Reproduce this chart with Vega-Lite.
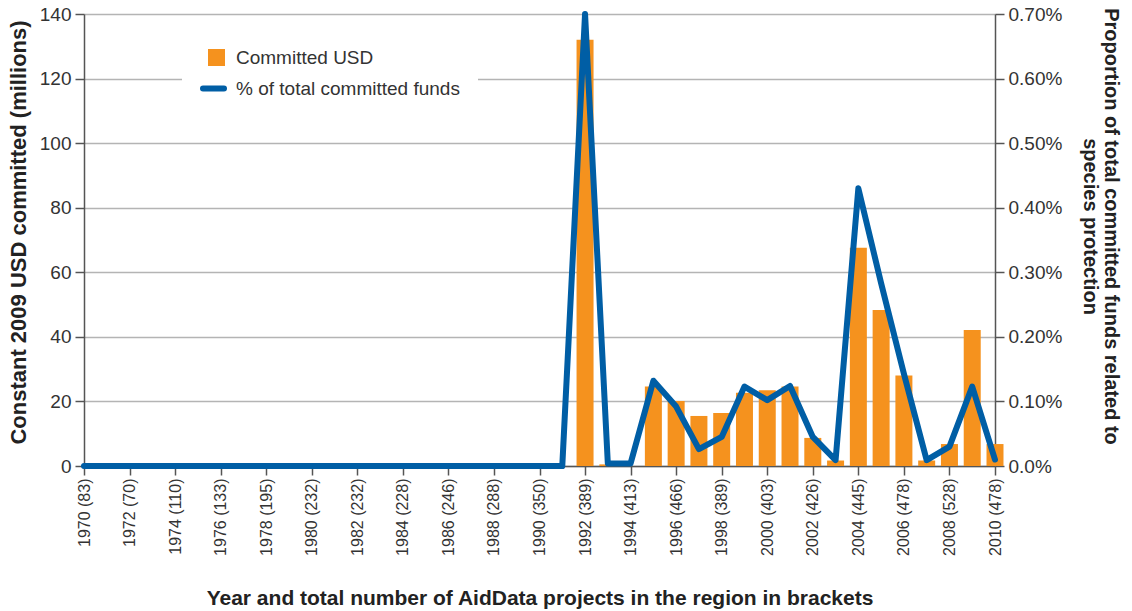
{
  "$schema": "https://vega.github.io/schema/vega-lite/v6.json",
  "width": 911,
  "height": 452,
  "autosize": "none",
  "padding": {"left": 84, "top": 14, "right": 137, "bottom": 145},
  "background": "white",
  "config": {
    "view": {"stroke": null},
    "font": "Liberation Sans",
    "axis": {"labelColor": "#333333", "titleColor": "#222222", "domainColor": "#555555", "tickColor": "#555555", "domainWidth": 1.5, "tickWidth": 1.5, "gridColor": "#b4b4b4", "gridWidth": 1.3}
  },
  "data": {"values": [
    {"year": 1970, "label": "1970 (83)", "usd": 0, "pct": 0},
    {"year": 1971, "label": "1971", "usd": 0, "pct": 0},
    {"year": 1972, "label": "1972 (70)", "usd": 0, "pct": 0},
    {"year": 1973, "label": "1973", "usd": 0, "pct": 0},
    {"year": 1974, "label": "1974 (110)", "usd": 0, "pct": 0},
    {"year": 1975, "label": "1975", "usd": 0, "pct": 0},
    {"year": 1976, "label": "1976 (133)", "usd": 0, "pct": 0},
    {"year": 1977, "label": "1977", "usd": 0, "pct": 0},
    {"year": 1978, "label": "1978 (195)", "usd": 0, "pct": 0},
    {"year": 1979, "label": "1979", "usd": 0, "pct": 0},
    {"year": 1980, "label": "1980 (232)", "usd": 0, "pct": 0},
    {"year": 1981, "label": "1981", "usd": 0, "pct": 0},
    {"year": 1982, "label": "1982 (232)", "usd": 0, "pct": 0},
    {"year": 1983, "label": "1983", "usd": 0, "pct": 0},
    {"year": 1984, "label": "1984 (228)", "usd": 0, "pct": 0},
    {"year": 1985, "label": "1985", "usd": 0, "pct": 0},
    {"year": 1986, "label": "1986 (246)", "usd": 0, "pct": 0},
    {"year": 1987, "label": "1987", "usd": 0, "pct": 0},
    {"year": 1988, "label": "1988 (288)", "usd": 0, "pct": 0},
    {"year": 1989, "label": "1989", "usd": 0, "pct": 0},
    {"year": 1990, "label": "1990 (350)", "usd": 0, "pct": 0},
    {"year": 1991, "label": "1991", "usd": 0, "pct": 0},
    {"year": 1992, "label": "1992 (389)", "usd": 132, "pct": 0.0070},
    {"year": 1993, "label": "1993", "usd": 0.5, "pct": 0.00004},
    {"year": 1994, "label": "1994 (413)", "usd": 0, "pct": 0.00004},
    {"year": 1995, "label": "1995", "usd": 24.6, "pct": 0.00132},
    {"year": 1996, "label": "1996 (466)", "usd": 20.1, "pct": 0.00092},
    {"year": 1997, "label": "1997", "usd": 15.5, "pct": 0.00026},
    {"year": 1998, "label": "1998 (389)", "usd": 16.4, "pct": 0.00045},
    {"year": 1999, "label": "1999", "usd": 22.7, "pct": 0.00123},
    {"year": 2000, "label": "2000 (403)", "usd": 23.5, "pct": 0.00102},
    {"year": 2001, "label": "2001", "usd": 24.6, "pct": 0.00124},
    {"year": 2002, "label": "2002 (426)", "usd": 8.7, "pct": 0.00045},
    {"year": 2003, "label": "2003", "usd": 1.7, "pct": 0.00009},
    {"year": 2004, "label": "2004 (445)", "usd": 67.6, "pct": 0.0043},
    {"year": 2005, "label": "2005", "usd": 48.3, "pct": 0.00283},
    {"year": 2006, "label": "2006 (478)", "usd": 28.0, "pct": 0.00143},
    {"year": 2007, "label": "2007", "usd": 1.7, "pct": 0.00009},
    {"year": 2008, "label": "2008 (528)", "usd": 6.8, "pct": 0.0003},
    {"year": 2009, "label": "2009", "usd": 42.1, "pct": 0.00123},
    {"year": 2010, "label": "2010 (478)", "usd": 6.8, "pct": 0.0001}
  ]},
  "encoding": {
    "x": {
      "field": "label", "type": "ordinal", "sort": null,
      "scale": {"type": "point", "padding": 0},
      "axis": {
        "values": ["1970 (83)", "1972 (70)", "1974 (110)", "1976 (133)", "1978 (195)", "1980 (232)", "1982 (232)", "1984 (228)", "1986 (246)", "1988 (288)", "1990 (350)", "1992 (389)", "1994 (413)", "1996 (466)", "1998 (389)", "2000 (403)", "2002 (426)", "2004 (445)", "2006 (478)", "2008 (528)", "2010 (478)"],
        "labelAngle": -90, "labelAlign": "right", "labelBaseline": "middle",
        "labelFontSize": 16, "labelPadding": 3, "tickSize": 9, "grid": false,
        "title": "Year and total number of AidData projects in the region in brackets",
        "titleFontSize": 21, "titleFontWeight": "bold", "titleBaseline": "alphabetic", "titleY": 138
      }
    }
  },
  "layer": [
    {
      "mark": {"type": "bar", "width": 17},
      "encoding": {
        "y": {
          "field": "usd", "type": "quantitative",
          "scale": {"domain": [0, 140]},
          "axis": {
            "values": [0, 20, 40, 60, 80, 100, 120, 140], "grid": true,
            "labelFontSize": 19, "tickSize": 9, "labelPadding": 4,
            "title": "Constant 2009 USD committed (millions)",
            "titleFontSize": 22, "titleFontWeight": "bold", "titleBaseline": "alphabetic",
            "titleX": -59, "titleY": 218
          }
        },
        "fill": {
          "datum": "Committed USD",
          "scale": {"range": ["#F5921E"]},
          "legend": {
            "orient": "none", "legendX": 123, "legendY": 34, "padding": 0,
            "title": null, "symbolType": "square", "symbolSize": 289,
            "symbolStrokeWidth": 0, "labelFontSize": 19, "labelColor": "#333333",
            "labelOffset": 10, "labelLimit": 400, "zindex": 2
          }
        }
      }
    },
    {
      "mark": {"type": "line", "strokeWidth": 6, "strokeCap": "round", "strokeJoin": "round"},
      "encoding": {
        "y": {
          "field": "pct", "type": "quantitative",
          "scale": {"domain": [0, 0.007]},
          "axis": {
            "orient": "right",
            "values": [0, 0.001, 0.002, 0.003, 0.004, 0.005, 0.006, 0.007], "grid": false,
            "labelExpr": "datum.value == 0 ? '0.0%' : format(datum.value, '.2%')",
            "labelFontSize": 19, "tickSize": 9, "labelPadding": 4,
            "title": ["Proportion of total committed funds related to", "species protection"],
            "titleFontSize": 20, "titleFontWeight": "bold", "titleAngle": 90,
            "titleBaseline": "alphabetic", "titleLineHeight": 21,
            "titleX": 109, "titleY": 212
          }
        },
        "stroke": {
          "datum": "% of total committed funds",
          "scale": {"range": ["#005EA5"]},
          "legend": {
            "orient": "none", "legendX": 98, "legendY": 43, "padding": 18,
            "fillColor": "white", "title": null, "symbolType": "stroke",
            "symbolSize": 441, "symbolStrokeWidth": 6, "labelFontSize": 19,
            "labelColor": "#333333", "labelOffset": 9, "labelLimit": 400, "zindex": 1,
            "encode": {"symbols": {"update": {"strokeCap": {"value": "round"}}}}
          }
        }
      }
    }
  ],
  "resolve": {"scale": {"y": "independent"}}
}
